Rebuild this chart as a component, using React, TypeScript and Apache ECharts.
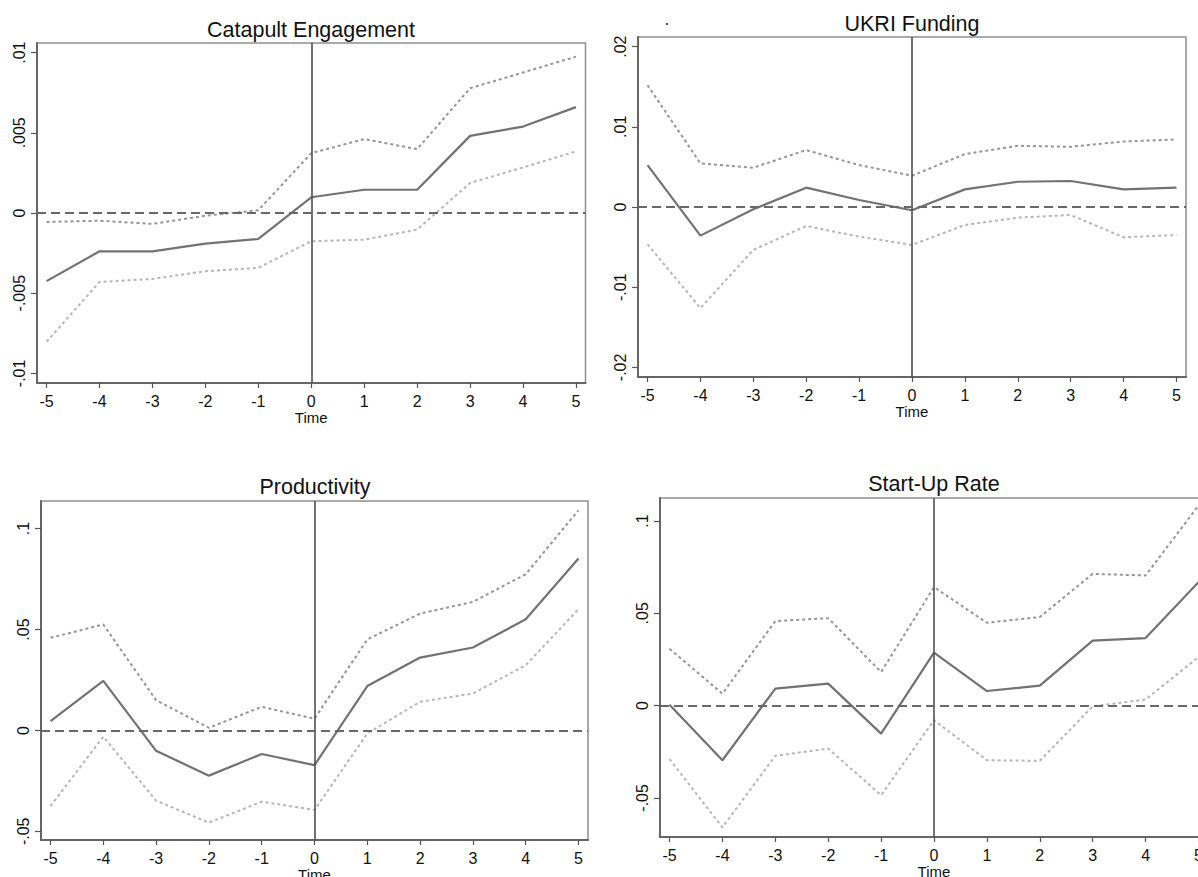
import React, { useEffect, useRef } from "react";
import * as echarts from "echarts";

const periods = [-5, -4, -3, -2, -1, 0, 1, 2, 3, 4, 5];

const catapultEst = [-0.00425, -0.00239, -0.00239, -0.00191, -0.00162, 0.00098, 0.00145, 0.00145, 0.00481, 0.00539, 0.0066];
const catapultUpper = [-0.00056, -0.00048, -0.00068, -0.00017, 0.00017, 0.00373, 0.00461, 0.00398, 0.00778, 0.00876, 0.00975];
const catapultLower = [-0.00803, -0.0043, -0.00411, -0.00363, -0.00342, -0.00176, -0.00166, -0.00104, 0.00187, 0.00284, 0.00384];
const catapultTicks = [-0.01, -0.005, 0, 0.005, 0.01];

const ukriEst = [0.00523, -0.00357, -0.00029, 0.00241, 0.00087, -0.00041, 0.0022, 0.00315, 0.00324, 0.0022, 0.00241];
const ukriUpper = [0.01519, 0.00544, 0.0049, 0.0071, 0.00523, 0.0039, 0.0066, 0.00763, 0.00751, 0.00817, 0.00842];
const ukriLower = [-0.00465, -0.01261, -0.00535, -0.00237, -0.00369, -0.00473, -0.00224, -0.00133, -0.001, -0.00378, -0.00349];
const ukriTicks = [-0.02, -0.01, 0, 0.01, 0.02];

const prodEst = [0.0046, 0.0246, -0.0101, -0.0224, -0.0117, -0.0172, 0.022, 0.0361, 0.0411, 0.0551, 0.0852];
const prodUpper = [0.0459, 0.0525, 0.015, 0.0013, 0.0117, 0.0058, 0.0451, 0.0579, 0.0637, 0.0774, 0.1091];
const prodLower = [-0.0375, -0.0031, -0.0348, -0.0457, -0.0353, -0.0394, -0.0015, 0.0142, 0.0183, 0.0323, 0.0601];
const prodTicks = [-0.05, 0, 0.05, 0.1];

const startEst = [0.0005, -0.0296, 0.0092, 0.0119, -0.0152, 0.0287, 0.0079, 0.0108, 0.0352, 0.0366, 0.0669];
const startUpper = [0.0308, 0.0065, 0.0458, 0.0474, 0.0182, 0.0642, 0.0449, 0.048, 0.0714, 0.0705, 0.1084];
const startLower = [-0.029, -0.066, -0.0272, -0.0233, -0.0485, -0.0079, -0.0296, -0.0299, -0.0004, 0.0033, 0.0263];
const startTicks = [-0.05, 0, 0.05, 0.1];

const titles = ["Catapult Engagement", "UKRI Funding", "Productivity", "Start-Up Rate"];
const xAxisName = "Time";

const FONT = "'Liberation Sans', Arial, Helvetica, sans-serif";

const fmtY = (v: number) => {
  if (Math.abs(v) < 1e-12) return "0";
  const s = String(parseFloat(v.toFixed(5)));
  return s.replace(/^(-?)0\./, "$1.");
};

const panels = [
  {
    title: titles[0], est: catapultEst, upper: catapultUpper, lower: catapultLower, ticks: catapultTicks,
    yMin: -0.0106, yMax: 0.0106, nameGap: 26,
    grid: { left: 37, top: 43, width: 548.5, height: 340 }, titleX: 311, titleY: 30,
  },
  {
    title: titles[1], est: ukriEst, upper: ukriUpper, lower: ukriLower, ticks: ukriTicks,
    yMin: -0.0212, yMax: 0.0212, nameGap: 26,
    grid: { left: 638, top: 37, width: 548, height: 340 }, titleX: 912, titleY: 24,
  },
  {
    title: titles[2], est: prodEst, upper: prodUpper, lower: prodLower, ticks: prodTicks,
    yMin: -0.0543, yMax: 0.1137, nameGap: 25,
    grid: { left: 41, top: 501, width: 547, height: 339 }, titleX: 315, titleY: 487,
  },
  {
    title: titles[3], est: startEst, upper: startUpper, lower: startLower, ticks: startTicks,
    yMin: -0.0712, yMax: 0.1125, nameGap: 23.5,
    grid: { left: 660, top: 498, width: 548, height: 339 }, titleX: 934, titleY: 484,
  },
];

export default function App() {
  const ref = useRef<HTMLDivElement>(null);

  useEffect(() => {
    if (!ref.current) return;
    const chart = echarts.init(ref.current, undefined, { renderer: "svg" });

    const grids: any[] = [];
    const xAxes: any[] = [];
    const yAxes: any[] = [];
    const series: any[] = [];
    const graphics: any[] = [];

    panels.forEach((p, i) => {
      grids.push({
        ...p.grid,
        show: true,
        borderColor: "#8e8e8e",
        borderWidth: 1.5,
        backgroundColor: "transparent",
        containLabel: false,
        outerBoundsMode: "none",
      });
      xAxes.push({
        type: "value",
        gridIndex: i,
        min: -5.18,
        max: 5.18,
        name: xAxisName,
        nameLocation: "middle",
        nameGap: p.nameGap,
        nameTextStyle: { fontFamily: FONT, fontSize: 15, color: "#111111" },
        axisLine: { show: true, onZero: false, lineStyle: { color: "#666666", width: 2 } },
        axisTick: { show: true, length: 5, customValues: periods, lineStyle: { color: "#555555", width: 1.2 } },
        axisLabel: {
          show: true,
          customValues: periods,
          margin: 10,
          fontFamily: FONT,
          fontSize: 16,
          color: "#111111",
          formatter: (v: number) => String(Math.round(v)),
        },
        splitLine: { show: false },
      });
      yAxes.push({
        type: "value",
        gridIndex: i,
        min: p.yMin,
        max: p.yMax,
        axisLine: { show: true, onZero: false, lineStyle: { color: "#666666", width: 2 } },
        axisTick: { show: true, length: 6, customValues: p.ticks, lineStyle: { color: "#555555", width: 1.2 } },
        axisLabel: {
          show: true,
          customValues: p.ticks,
          rotate: 90,
          margin: 10,
          fontFamily: FONT,
          fontSize: 16,
          color: "#111111",
          formatter: (v: number) => fmtY(v),
        },
        splitLine: { show: false },
      });
      const toPts = (arr: number[]) => periods.map((t, k) => [t, arr[k]]);
      series.push({
        type: "line",
        xAxisIndex: i,
        yAxisIndex: i,
        data: toPts(p.upper),
        showSymbol: false,
        symbol: "none",
        lineStyle: { color: "#959595", width: 2, type: [3, 3] },
        silent: true,
        z: 2,
      });
      series.push({
        type: "line",
        xAxisIndex: i,
        yAxisIndex: i,
        data: toPts(p.lower),
        showSymbol: false,
        symbol: "none",
        lineStyle: { color: "#b6b6b6", width: 2, type: [3, 3] },
        silent: true,
        z: 2,
      });
      series.push({
        type: "line",
        xAxisIndex: i,
        yAxisIndex: i,
        data: toPts(p.est),
        showSymbol: false,
        symbol: "none",
        lineStyle: { color: "#727272", width: 2.2 },
        silent: true,
        z: 3,
        markLine: {
          silent: true,
          symbol: "none",
          label: { show: false },
          animation: false,
          data: [
            { xAxis: 0, lineStyle: { color: "#505050", width: 1.6, type: "solid" } },
            { yAxis: 0, lineStyle: { color: "#686868", width: 2.2, type: [9, 5] } },
          ],
        },
      });
      graphics.push({
        type: "text",
        x: p.titleX,
        y: p.titleY,
        style: {
          text: p.title,
          fontFamily: FONT,
          fontSize: 21.5,
          fill: "#111111",
          textAlign: "center",
          textVerticalAlign: "middle",
        },
        silent: true,
      });
    });

    graphics.push({
      type: "circle",
      shape: { cx: 667, cy: 24, r: 1.1 },
      style: { fill: "#444444" },
      silent: true,
    });

    chart.setOption({
      animation: false,
      backgroundColor: "#ffffff",
      grid: grids,
      xAxis: xAxes,
      yAxis: yAxes,
      series,
      graphic: graphics,
    });

    return () => chart.dispose();
  }, []);

  return (
    <div
      ref={ref}
      style={{ position: "fixed", left: 0, top: 0, width: 1198, height: 877, background: "#ffffff" }}
    />
  );
}
